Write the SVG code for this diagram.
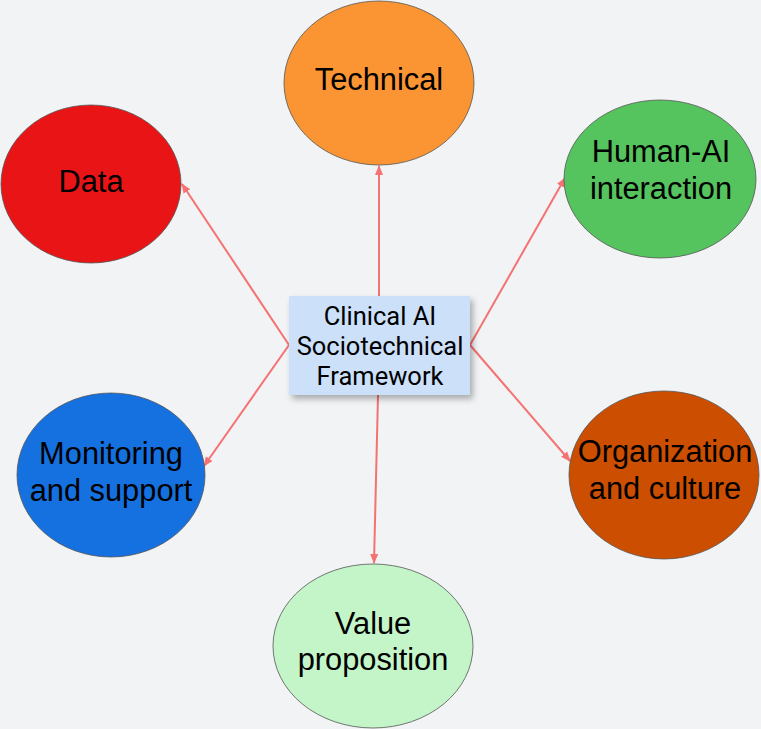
<svg xmlns="http://www.w3.org/2000/svg" width="761" height="729" viewBox="0 0 761 729">
<defs>
<marker id="arr" viewBox="0 0 10 10" refX="9" refY="5" markerWidth="5" markerHeight="5" orient="auto" markerUnits="strokeWidth">
<path d="M0,1 L10,5 L0,9 Z" fill="#F57272"/>
</marker>
<filter id="sh" x="-20%" y="-20%" width="140%" height="150%">
<feDropShadow dx="3" dy="4" stdDeviation="3" flood-color="#000" flood-opacity="0.3"/>
</filter>
</defs>
<style>
.n{stroke:#555;stroke-width:0.8}
.t{font-family:"Liberation Sans",Arial,sans-serif;font-size:30.8px;fill:#000;text-anchor:middle}
.c{font-family:Roboto,"Liberation Sans",sans-serif;font-size:25.5px;fill:#000;text-anchor:middle}
.e{stroke:#F57272;stroke-width:2;fill:none;marker-end:url(#arr)}
</style>
<rect width="761" height="729" fill="#F1F3F5"/>
<g id="connectors">
<line class="e" x1="379" y1="296" x2="379" y2="166"/>
<line class="e" x1="289" y1="345" x2="182" y2="184"/>
<line class="e" x1="289" y1="345" x2="204" y2="466"/>
<line class="e" x1="470" y1="345" x2="565" y2="178"/>
<line class="e" x1="470" y1="345" x2="570" y2="461"/>
<line class="e" x1="378" y1="395" x2="374" y2="563"/>
</g>
<g id="technical">
<ellipse class="n" cx="379" cy="83" rx="95" ry="82" fill="#FB9533"/>
<text class="t" x="379" y="90">Technical</text>
</g>
<g id="data">
<ellipse class="n" cx="91" cy="184" rx="90" ry="79" fill="#E81416"/>
<text class="t" x="91" y="192">Data</text>
</g>
<g id="human-ai">
<ellipse class="n" cx="660" cy="179" rx="96" ry="79" fill="#55C45E"/>
<text class="t" x="661" y="162">Human-AI</text>
<text class="t" x="661" y="199">interaction</text>
</g>
<g id="monitoring">
<ellipse class="n" cx="111" cy="475" rx="94" ry="82" fill="#1570E0"/>
<text class="t" x="111" y="464">Monitoring</text>
<text class="t" x="111" y="501">and support</text>
</g>
<g id="organization">
<ellipse class="n" cx="664" cy="475" rx="95" ry="84" fill="#CC4E00"/>
<text class="t" x="665" y="462">Organization</text>
<text class="t" x="665" y="499">and culture</text>
</g>
<g id="value">
<ellipse class="n" cx="373" cy="646" rx="100" ry="82" fill="#C4F5C8"/>
<text class="t" x="373" y="634">Value</text>
<text class="t" x="373" y="670">proposition</text>
</g>
<g id="center">
<rect x="289" y="296" width="181" height="99" fill="#CCE0FA" filter="url(#sh)"/>
<text class="c" x="380" y="325">Clinical AI</text>
<text class="c" x="380" y="355">Sociotechnical</text>
<text class="c" x="380" y="385">Framework</text>
</g>
</svg>
